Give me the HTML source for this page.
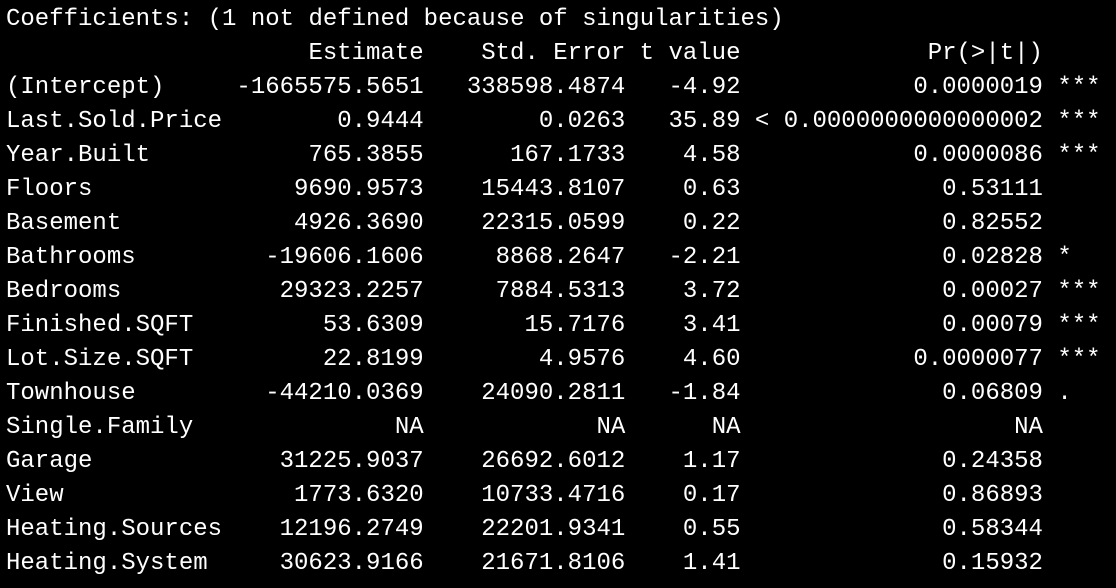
<!DOCTYPE html>
<html>
<head>
<meta charset="utf-8">
<style>
  html,body{margin:0;padding:0;background:#000;}
  body{width:1116px;height:588px;overflow:hidden;}
  #out{position:absolute;left:6px;top:3px;font-family:"Liberation Mono",monospace;font-size:24px;line-height:34px;color:#fff;}
  .r{height:34px;white-space:nowrap;}
  .r span{display:inline-block;white-space:pre;}
  .n{width:15ch;text-align:left;}
  .e{width:14ch;text-align:right;}
  .s{width:14ch;text-align:right;}
  .t{width:8ch;text-align:right;}
  .p{width:21ch;text-align:right;}
  .g{text-align:left;}
</style>
</head>
<body>
<div id="out">
<div class="r">Coefficients: (1 not defined because of singularities)</div>
<div class="r"><span class="n"></span><span class="e">Estimate</span><span class="s">Std. Error</span><span class="t">t value</span><span class="p">Pr(&gt;|t|)</span></div>
<div class="r"><span class="n">(Intercept)</span><span class="e">-1665575.5651</span><span class="s">338598.4874</span><span class="t">-4.92</span><span class="p">0.0000019</span><span class="g"> ***</span></div>
<div class="r"><span class="n">Last.Sold.Price</span><span class="e">0.9444</span><span class="s">0.0263</span><span class="t">35.89</span><span class="p">&lt; 0.0000000000000002</span><span class="g"> ***</span></div>
<div class="r"><span class="n">Year.Built</span><span class="e">765.3855</span><span class="s">167.1733</span><span class="t">4.58</span><span class="p">0.0000086</span><span class="g"> ***</span></div>
<div class="r"><span class="n">Floors</span><span class="e">9690.9573</span><span class="s">15443.8107</span><span class="t">0.63</span><span class="p">0.53111</span></div>
<div class="r"><span class="n">Basement</span><span class="e">4926.3690</span><span class="s">22315.0599</span><span class="t">0.22</span><span class="p">0.82552</span></div>
<div class="r"><span class="n">Bathrooms</span><span class="e">-19606.1606</span><span class="s">8868.2647</span><span class="t">-2.21</span><span class="p">0.02828</span><span class="g"> *</span></div>
<div class="r"><span class="n">Bedrooms</span><span class="e">29323.2257</span><span class="s">7884.5313</span><span class="t">3.72</span><span class="p">0.00027</span><span class="g"> ***</span></div>
<div class="r"><span class="n">Finished.SQFT</span><span class="e">53.6309</span><span class="s">15.7176</span><span class="t">3.41</span><span class="p">0.00079</span><span class="g"> ***</span></div>
<div class="r"><span class="n">Lot.Size.SQFT</span><span class="e">22.8199</span><span class="s">4.9576</span><span class="t">4.60</span><span class="p">0.0000077</span><span class="g"> ***</span></div>
<div class="r"><span class="n">Townhouse</span><span class="e">-44210.0369</span><span class="s">24090.2811</span><span class="t">-1.84</span><span class="p">0.06809</span><span class="g"> .</span></div>
<div class="r"><span class="n">Single.Family</span><span class="e">NA</span><span class="s">NA</span><span class="t">NA</span><span class="p">NA</span></div>
<div class="r"><span class="n">Garage</span><span class="e">31225.9037</span><span class="s">26692.6012</span><span class="t">1.17</span><span class="p">0.24358</span></div>
<div class="r"><span class="n">View</span><span class="e">1773.6320</span><span class="s">10733.4716</span><span class="t">0.17</span><span class="p">0.86893</span></div>
<div class="r"><span class="n">Heating.Sources</span><span class="e">12196.2749</span><span class="s">22201.9341</span><span class="t">0.55</span><span class="p">0.58344</span></div>
<div class="r"><span class="n">Heating.System</span><span class="e">30623.9166</span><span class="s">21671.8106</span><span class="t">1.41</span><span class="p">0.15932</span></div>
</div>
</body>
</html>
